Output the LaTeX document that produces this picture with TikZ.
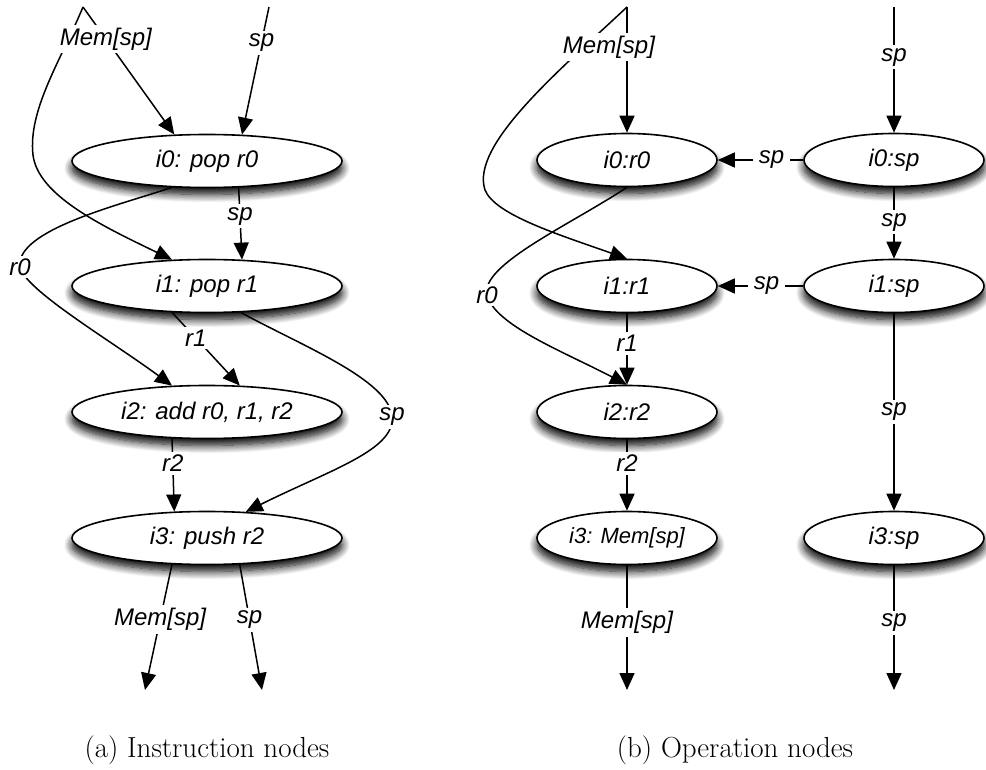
\documentclass[tikz,border=0pt]{standalone}
\usepackage{fontspec}
\setsansfont{Liberation Sans}
\usetikzlibrary{arrows.meta,shapes.geometric,shadows.blur}
\begin{document}
\begin{tikzpicture}[x=1pt,y=-1pt,
  nfont/.style={font=\sffamily\itshape\fontsize{24}{28}\selectfont},
  inst/.style={ellipse, draw, line width=1.6pt, fill=white, minimum width=270pt, minimum height=53pt, inner sep=0pt, nfont,
    blur shadow={shadow xshift=0pt, shadow yshift=-7pt, shadow blur radius=8pt, shadow blur steps=10, shadow opacity=100}},
  oper/.style={inst, minimum width=180pt},
  conn/.style={line width=1.5pt, -{Triangle[length=17pt,width=15pt]}},
  lbl/.style={fill=white, inner xsep=6pt, inner ysep=3pt, nfont},
  captext/.style={font=\fontsize{29}{34}\selectfont}]
\useasboundingbox (0,0) rectangle (986,770);
% free ends
\coordinate (memA) at (83,7);
\coordinate (spA) at (269,7);
\coordinate (memB) at (627,7);
\coordinate (spB) at (894,7);
\coordinate (oAm) at (145,690);
\coordinate (oAs) at (262,690);
\coordinate (oBm) at (627,690);
\coordinate (oCs) at (894,690);
% (a) instruction nodes
\node[inst] (A0) at (207,161) {i0: pop r0};
\node[inst] (A1) at (207,286) {i1: pop r1};
\node[inst] (A2) at (207,412) {i2: add r0, r1, r2};
\node[inst] (A3) at (207,538) {i3: push r2};
% (b) operation nodes
\node[oper] (B0) at (627,160) {i0:r0};
\node[oper] (C0) at (894,160) {i0:sp};
\node[oper] (B1) at (627,286) {i1:r1};
\node[oper] (C1) at (894,286) {i1:sp};
\node[oper] (B2) at (627,412) {i2:r2};
\node[oper] (B3) at (627,538) {\fontsize{22}{26}\selectfont i3: Mem[sp]};
\node[oper] (C3) at (894,538) {i3:sp};
% left edges
\draw[conn] (memA) .. controls (60,62) and (28,110) .. (33,155) .. controls (38,195) and (100,225) .. (A1.143);
\draw[conn] (memA) -- node[lbl,pos=0.25]{Mem[sp]} (A0.141);
\draw[conn] (spA) -- node[lbl,pos=0.28]{sp} (A0.37);
\draw[conn] (A0.320) -- node[lbl,pos=0.4]{sp} (A1.37);
\draw[conn] (A0.217) .. controls (120,205) and (15,230) .. (20,267) node[lbl,inner xsep=3pt]{r0} .. controls (25,290) and (110,340) .. (A2.143);
\draw[conn] (A1.217) -- node[lbl,pos=0.35]{r1} (A2.39);
\draw[conn] (A1.322) .. controls (300,345) and (390,380) .. (392,417) node[lbl,inner xsep=3pt]{sp} .. controls (395,450) and (330,470) .. (A3.34);
\draw[conn] (A2.217) -- node[lbl,pos=0.34]{r2} (A3.141);
\draw[conn] (A3.217) -- node[lbl,pos=0.44]{Mem[sp]} (oAm);
\draw[conn] (A3.321) -- node[lbl,pos=0.44]{sp} (oAs);
% right edges
\draw[conn] (memB) .. controls (560,70) and (470,145) .. (485,190) .. controls (495,215) and (560,235) .. (B1.north);
\draw[conn] (memB) -- node[lbl,pos=0.32,xshift=-18pt]{Mem[sp]} (B0.north);
\draw[conn] (spB) -- node[lbl,pos=0.4]{sp} (C0.north);
\draw[conn] (C0.west) -- node[lbl,pos=0.37]{sp} (B0.east);
\draw[conn] (C1.west) -- node[lbl,pos=0.43]{sp} (B1.east);
\draw[conn] (C0.south) -- node[lbl,pos=0.49]{sp} (C1.north);
\draw[conn] (B0.south) .. controls (570,225) and (480,265) .. (487,295) node[lbl,inner xsep=3pt]{r0} .. controls (495,325) and (560,350) .. (B2.north);
\draw[conn] (B1.south) -- node[lbl,pos=0.42]{r1} (B2.north);
\draw[conn] (C1.south) -- node[lbl,pos=0.5]{sp} (C3.north);
\draw[conn] (B2.south) -- node[lbl,pos=0.34]{r2} (B3.north);
\draw[conn] (B3.south) -- node[lbl,pos=0.46]{Mem[sp]} (oBm);
\draw[conn] (C3.south) -- node[lbl,pos=0.46]{sp} (oCs);
% captions
\node[captext] (capA) at (207,750) {(a) Instruction nodes};
\node[captext] (capB) at (735,750) {(b) Operation nodes};
\end{tikzpicture}
\end{document}
